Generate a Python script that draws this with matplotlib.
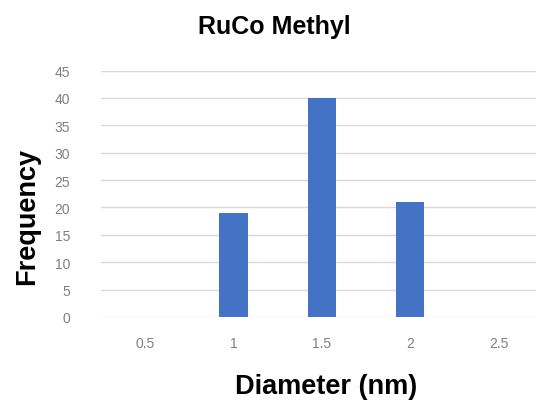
import numpy as np
import matplotlib
matplotlib.use("Agg")
import matplotlib.pyplot as plt

plt.rcParams['font.family'] = ['Liberation Sans', 'DejaVu Sans']

# diameter bins and counts
diameters = ["0.5", "1", "1.5", "2", "2.5"]
counts = [0, 19, 40, 21, 0]

fig = plt.figure(figsize=(5.36, 4.02), dpi=100)
ax = fig.add_axes([0.188, 0.209, 0.825, 0.613])

x = np.arange(len(diameters))
ax.bar(x, counts, width=0.32, color="#4472C4", zorder=3)

ax.set_xlim(-0.5, len(diameters) - 0.5)
ax.set_ylim(0, 45)
ax.set_yticks(np.arange(0, 46, 5))
ax.set_xticks(x)
ax.set_xticklabels(diameters)
ax.yaxis.grid(True, color="#d9d9d9", linewidth=1.0, zorder=0)
for s in ax.spines.values():
    s.set_visible(False)
ax.tick_params(axis="y", length=0, labelsize=10, colors="#7f7f7f", pad=22)
ax.tick_params(axis="x", length=0, labelsize=10, colors="#7f7f7f", pad=14)

# Excel-style placement: title on the whole chart, labels set by hand
fig.text(0.512, 0.933, "RuCo Methyl", fontsize=18, fontweight="bold", ha="center", va="center")
fig.text(0.051, 0.461, "Frequency", fontsize=19.5, fontweight="bold", rotation=90,
         ha="center", va="center")
fig.text(0.608, 0.037, "Diameter (nm)", fontsize=19.5, fontweight="bold", ha="center", va="center")

fig.savefig("out.png", dpi=100)
